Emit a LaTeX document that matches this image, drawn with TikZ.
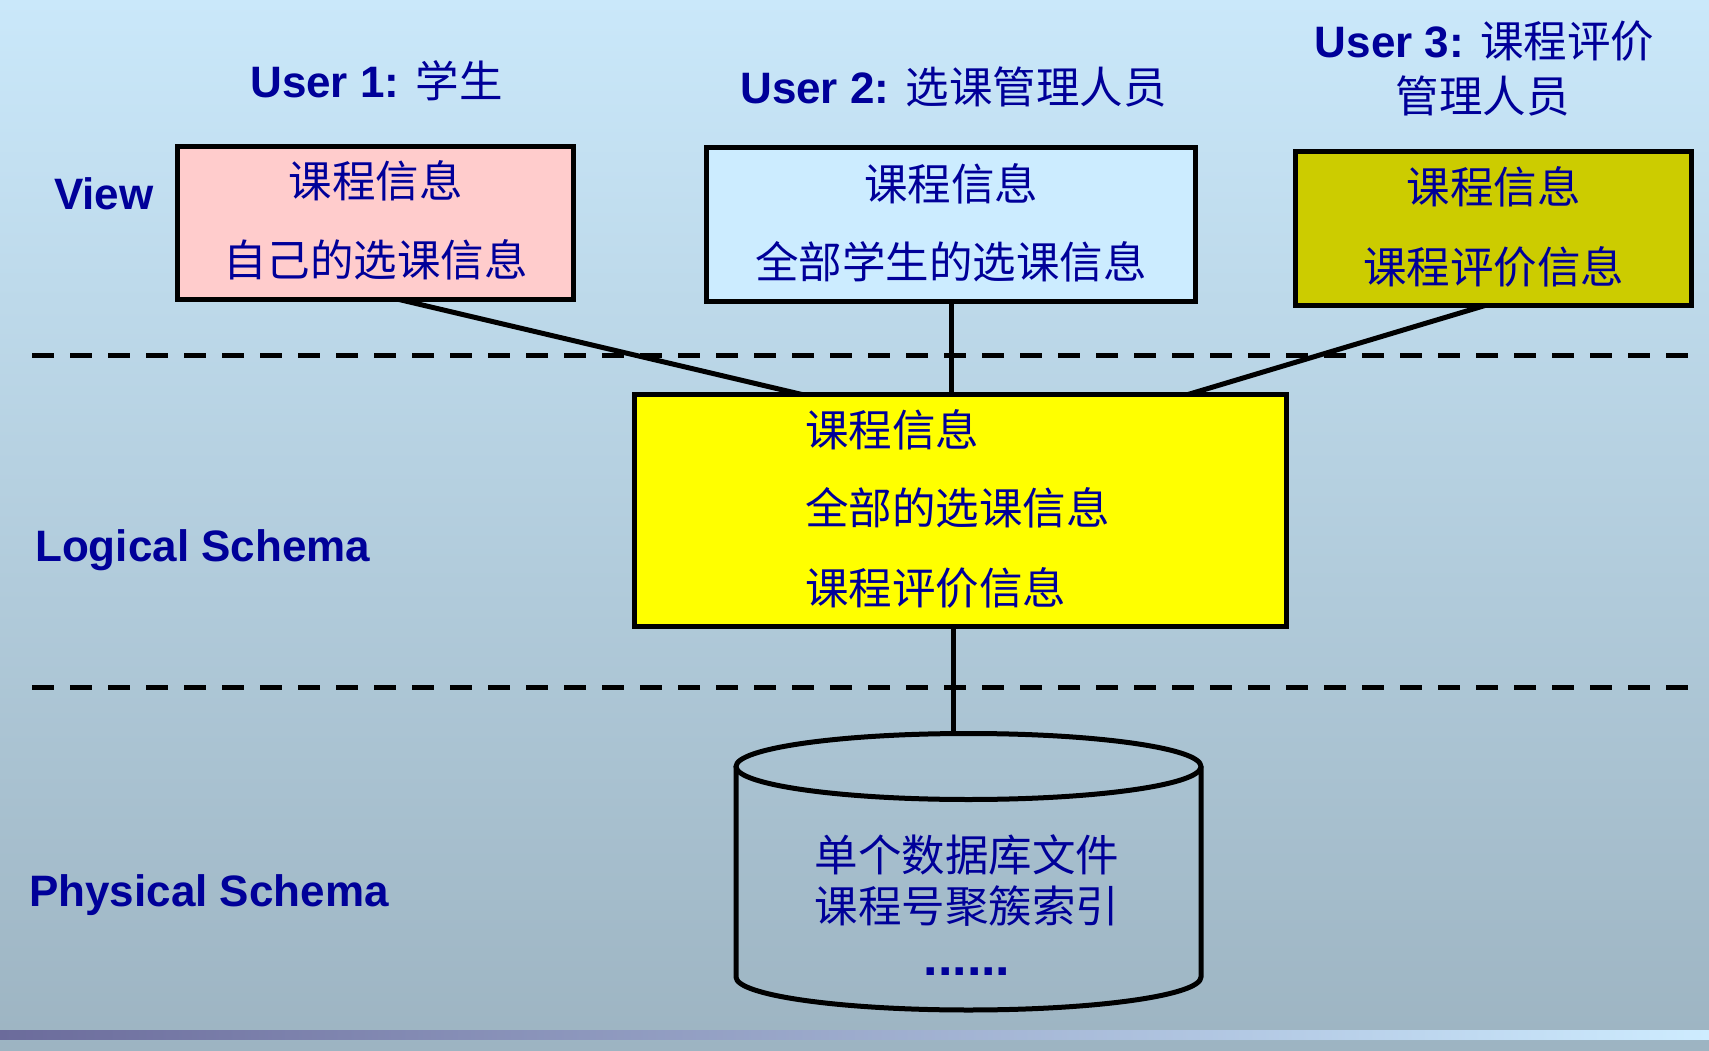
\documentclass[tikz,border=0pt]{standalone}
\usepackage{fontspec}
\setmainfont{Liberation Sans}
\newfontfamily\cjk{Noto Sans CJK SC}
\usetikzlibrary{calc}
\definecolor{txtblue}{RGB}{0,0,153}
\definecolor{bgtop}{RGB}{202,232,250}
\definecolor{bgbot}{RGB}{157,180,194}
\definecolor{pinkfill}{RGB}{255,204,204}
\definecolor{bluefill}{RGB}{204,236,255}
\definecolor{olivefill}{RGB}{204,204,0}
\definecolor{logicfill}{RGB}{255,255,0}
\definecolor{barleft}{RGB}{107,107,155}
\definecolor{barmid}{RGB}{160,180,212}
\definecolor{barright}{RGB}{206,236,255}
\newcommand{\zh}[1]{{\cjk\mdseries\fontsize{43.5pt}{50pt}\selectfont #1}}
\begin{document}
\begin{tikzpicture}[x=1pt,y=-1pt,
  boxnode/.style={draw=black, line width=5pt, inner sep=0pt, outer sep=0pt},
  conn/.style={draw=black, line width=5pt},
  sepline/.style={draw=black, line width=5pt, dash pattern=on 22pt off 16pt},
  cn/.style={text=txtblue, inner sep=0pt, anchor=base, font=\cjk\fontsize{43.5pt}{50pt}\selectfont},
  en/.style={text=txtblue, inner sep=0pt, anchor=base, font=\bfseries\fontsize{44pt}{50pt}\selectfont}]
\useasboundingbox (0,0) rectangle (1709,1051);
% background
\shade[top color=bgtop, bottom color=bgbot] (0,0) rectangle (1709,1051);
\shade[left color=barleft, middle color=barmid, right color=barright] (0,1030) rectangle (1709,1039);
% separators
\draw[sepline] (32,355) -- (1695,355);
\draw[sepline] (32,687) -- (1695,687);
% boxes
\node[boxnode, fill=pinkfill, minimum width=396pt, minimum height=153pt] (v1) at (375.5,223) {};
\node[boxnode, fill=bluefill, minimum width=489pt, minimum height=154pt] (v2) at (951,224.5) {};
\node[boxnode, fill=olivefill, minimum width=396pt, minimum height=154pt] (v3) at (1493.5,228.5) {};
\node[boxnode, fill=logicfill, minimum width=652pt, minimum height=232pt] (lg) at (960.5,510.5) {};
% cylinder
\coordinate (dbtop) at (953,733.5);
\draw[line width=5pt] (968.5,766.5) ellipse [x radius=232.5pt, y radius=33pt];
\draw[line width=5pt] (736,766.5) -- (736,977) arc[start angle=180, end angle=360, x radius=232.5pt, y radius=33pt] -- (1201,766.5);
% connectors
\draw[conn] ([xshift=23.5pt]v1.south) -- ([xshift=-158.5pt]lg.north);
\draw[conn] (v2.south) -- (v2.south |- lg.north);
\draw[conn] ([xshift=-8.5pt]v3.south) -- ([xshift=227.5pt]lg.north);
\draw[conn] (lg.south -| dbtop) -- (dbtop);
% user labels
\node[en] (u1) at (376.5,98) {User 1: \zh{学生}};
\node[en] (u2) at (953.5,104) {User 2: \zh{选课管理人员}};
\node[en] (u3) at (1484.5,58) {User 3: \zh{课程评价}};
\node[cn] (u3b) at (1482.5,112.5) {管理人员};
% level labels
\node[en, anchor=base west] (lv) at (54,210) {View};
\node[en, anchor=base west] (ll) at (35,561) {Logical Schema};
\node[en, anchor=base west] (lp) at (29,906) {Physical Schema};
% view texts
\node[cn] (t1a) at (375.5,197.5) {课程信息};
\node[cn] (t1b) at (375.5,276.5) {自己的选课信息};
\node[cn] (t2a) at (951,200.5) {课程信息};
\node[cn] (t2b) at (951,278.5) {全部学生的选课信息};
\node[cn] (t3a) at (1493.5,203.5) {课程信息};
\node[cn] (t3b) at (1493.5,283.5) {课程评价信息};
% logical texts
\node[cn, anchor=base west] (tla) at (805,446.5) {课程信息};
\node[cn, anchor=base west] (tlb) at (805,524.5) {全部的选课信息};
\node[cn, anchor=base west] (tlc) at (805,604.5) {课程评价信息};
% physical texts
\node[cn] (tpa) at (967,871.5) {单个数据库文件};
\node[cn] (tpb) at (967,922.5) {课程号聚簇索引};
\node[text=txtblue, inner sep=0pt, anchor=base, font=\bfseries\fontsize{52pt}{60pt}\selectfont] (tpc) at (967,975) {......};
\end{tikzpicture}
\end{document}
